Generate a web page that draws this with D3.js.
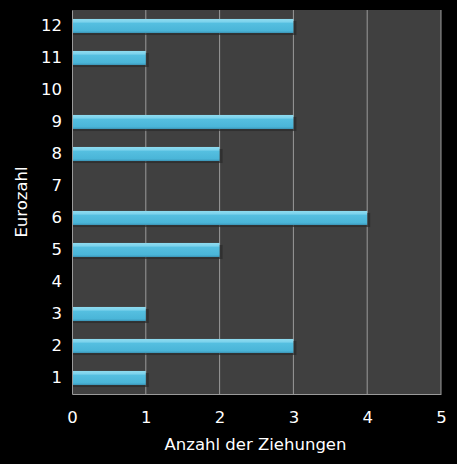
<!DOCTYPE html>
<html>
<head>
<meta charset="utf-8">
<script src="https://cdn.jsdelivr.net/npm/d3@7"></script>
<style>
  body { margin: 0; background: #000; }
  text { font-family: "DejaVu Sans", Verdana, sans-serif; fill: #fff; }
</style>
</head>
<body>
<div id="chart"></div>
<script>
var eurozahlen = ["1", "2", "3", "4", "5", "6", "7", "8", "9", "10", "11", "12"];
var ziehungen = [1, 3, 1, 0, 2, 4, 0, 2, 3, 0, 1, 3];
var xTicks = [0, 1, 2, 3, 4, 5];

var layout = {top: 10, bottom: 70, left: 72, right: 16};
var height = 464 - layout.top - layout.bottom;
var width = 457 - layout.left - layout.right;

var root = d3.select("#chart")
  .append("svg")
  .attr("width", 457)
  .attr("height", 464);

var defs = root.append("defs");
var grad = defs.append("linearGradient")
  .attr("id", "barGrad")
  .attr("x1", 0).attr("y1", 0).attr("x2", 0).attr("y2", 1);
grad.append("stop").attr("offset", "0%").attr("stop-color", "#8fdcf0");
grad.append("stop").attr("offset", "22%").attr("stop-color", "#7bd2ec");
grad.append("stop").attr("offset", "30%").attr("stop-color", "#55bfe0");
grad.append("stop").attr("offset", "85%").attr("stop-color", "#4ab5d8");
grad.append("stop").attr("offset", "100%").attr("stop-color", "#3a93b5");

var svg = root.append("g")
  .attr("transform", "translate(" + layout.left + "," + layout.top + ")");

var x = d3.scaleLinear()
  .domain([0, 5])
  .range([0, width]);

var y = d3.scaleBand()
  .domain(eurozahlen.slice().reverse())
  .range([0, height])
  .paddingInner(0.56)
  .paddingOuter(0.28);

// plot area
svg.append("rect")
  .attr("width", width)
  .attr("height", height)
  .attr("fill", "#404040");

// gridlines
svg.selectAll(".grid")
  .data(xTicks.slice(1))
  .enter()
  .append("line")
  .attr("x1", function(d) { return x(d); })
  .attr("x2", function(d) { return x(d); })
  .attr("y1", 0)
  .attr("y2", height)
  .attr("stroke", "#9a9a9a")
  .attr("stroke-width", 1);

var data = eurozahlen.map(function(e, i) { return {zahl: e, n: ziehungen[i]}; });

// bar shadows
svg.selectAll(".shadow")
  .data(data.filter(function(d) { return d.n > 0; }))
  .enter()
  .append("rect")
  .attr("x", x(0) + 1)
  .attr("y", function(d) { return y(d.zahl) + 2; })
  .attr("width", function(d) { return x(d.n) - x(0) + 2; })
  .attr("height", y.bandwidth())
  .attr("fill", "#2a2a2a")
  .attr("opacity", 0.7);

svg.selectAll(".bar")
  .data(data.filter(function(d) { return d.n > 0; }))
  .enter()
  .append("rect")
  .attr("x", x(0))
  .attr("y", function(d) { return y(d.zahl); })
  .attr("width", function(d) { return x(d.n) - x(0); })
  .attr("height", y.bandwidth())
  .attr("fill", "url(#barGrad)");

// axes
var xAxis = svg.append("g")
  .attr("transform", "translate(0," + height + ")")
  .call(d3.axisBottom(x).tickValues(xTicks).tickFormat(d3.format("d")).tickSize(0).tickPadding(17));
xAxis.select(".domain").attr("stroke", "#9a9a9a");
xAxis.selectAll("text").style("font-size", "16.5px").attr("fill", "#fff");

var yAxis = svg.append("g")
  .call(d3.axisLeft(y).tickSize(0).tickPadding(10));
yAxis.select(".domain").attr("stroke", "#9a9a9a");
yAxis.selectAll("text").style("font-size", "16.5px").attr("fill", "#fff");

svg.append("text")
  .attr("text-anchor", "middle")
  .attr("x", width / 2 - 1)
  .attr("y", height + 56)
  .style("font-size", "16.5px")
  .text("Anzahl der Ziehungen");

svg.append("text")
  .attr("text-anchor", "middle")
  .attr("transform", "translate(-45," + (height / 2) + ")rotate(-90)")
  .style("font-size", "16.5px")
  .text("Eurozahl");
</script>
</body>
</html>
